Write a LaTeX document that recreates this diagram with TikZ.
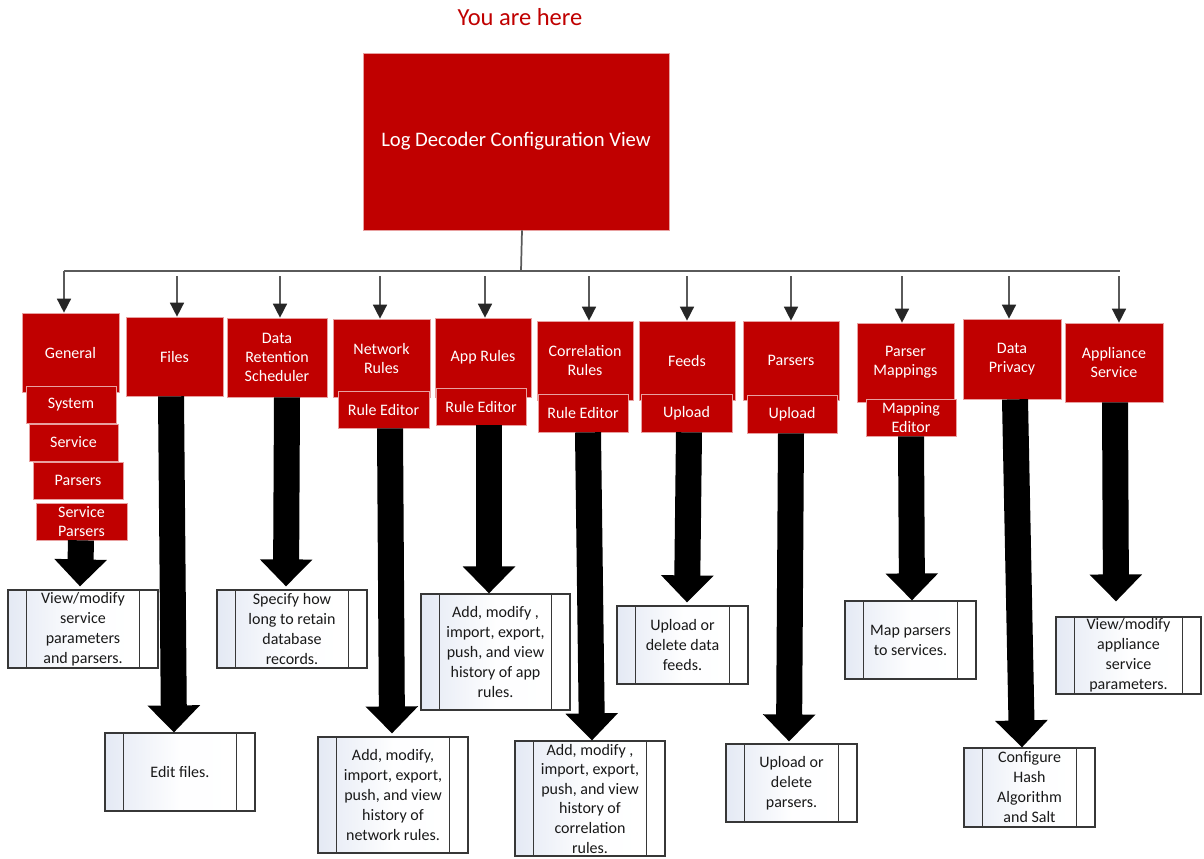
\documentclass[tikz,border=0pt]{standalone}
\usepackage{fontspec}
\setmainfont{Carlito}
\usetikzlibrary{arrows.meta,calc,shadows}
\definecolor{dred}{RGB}{192,0,0}
\definecolor{redline}{RGB}{232,160,160}
\definecolor{conn}{RGB}{90,90,90}
\definecolor{band}{RGB}{228,233,244}
\definecolor{dbord}{RGB}{55,55,55}
\tikzset{
  redbox/.style 2 args={draw=redline, line width=0.5pt, fill=dred, text=white,
    font=\fontsize{12}{14.25}\selectfont, align=center, inner sep=0pt,
    minimum width=#1*0.75pt, minimum height=#2*0.75pt,
    drop shadow={shadow xshift=1pt, shadow yshift=-1pt, opacity=0.3}},
  descbox/.style 2 args={draw=dbord, line width=0.9pt, left color=band, right color=white,
    middle color=white!96!band,
    text=black!90, font=\fontsize{12}{15}\selectfont, align=center, inner sep=0pt,
    minimum width=#1*0.75pt, minimum height=#2*0.75pt},
  bandline/.style={draw=dbord, line width=0.9pt},
  connline/.style={draw=conn, line width=1.3pt},
  thinarrow/.style={draw=conn, line width=1.1pt,
    -{Triangle[width=10.5pt,length=10.5pt,color=black!85]}},
  fatarrow/.style={draw=black, line width=19.5pt,
    -{Triangle[width=38.25pt,length=20.25pt]}}
}
\newcommand\pbands[1]{%
  \draw[bandline] ($(#1.north west)+(19,0)$) -- ($(#1.south west)+(19,0)$);
  \draw[bandline] ($(#1.north east)+(-19,0)$) -- ($(#1.south east)+(-19,0)$);}
\begin{document}
\begin{tikzpicture}[x=0.75pt,y=-0.75pt]
\fill[white] (0,0) rectangle (1204,858);
\useasboundingbox (0,0) rectangle (1204,858);

% title and main box
\node[text=dred, font=\fontsize{18.4}{20}\selectfont] (title) at (520,17) {You are here};
\node[redbox={306}{177}, font=\fontsize{15.5}{18}\selectfont] (main) at (516,141.5) {Log Decoder Configuration View};

% red boxes
\node[redbox={97}{79}] (gen) at (70.5,352.5) {General};
\node[redbox={90}{37}] (sys) at (71,404.5) {System};
\node[redbox={89}{37}] (svc) at (73.5,442.5) {Service};
\node[redbox={90}{37}] (par) at (78,480.5) {Parsers};
\node[redbox={91}{37}] (spar) at (81.5,521.5) {Service\\Parsers};
\node[redbox={97}{79}] (files) at (174.5,356.5) {Files};
\node[redbox={100}{79}] (dr) at (277,357.5) {Data\\Retention\\Scheduler};
\node[redbox={97}{78}] (net) at (381.5,358) {Network\\Rules};
\node[redbox={91}{37}] (netre) at (383.5,409.5) {Rule Editor};
\node[redbox={96}{79}] (app) at (483,357.5) {App Rules};
\node[redbox={90}{37}] (appre) at (481,406.5) {Rule Editor};
\node[redbox={96}{79}] (cor) at (585,360.5) {Correlation\\Rules};
\node[redbox={90}{38}] (corre) at (583,413) {Rule Editor};
\node[redbox={96}{79}] (feeds) at (687,360.5) {Feeds};
\node[redbox={91}{38}] (feedsup) at (686.5,413) {Upload};
\node[redbox={96}{79}] (pars) at (791,360.5) {Parsers};
\node[redbox={90}{38}] (parsup) at (792,414) {Upload};
\node[redbox={97}{79}] (pm) at (905.5,362.5) {Parser\\Mappings};
\node[redbox={90}{37}] (pmme) at (911,417.5) {Mapping\\Editor};
\node[redbox={98}{80}] (dp) at (1012,359) {Data\\Privacy};
\node[redbox={98}{79}] (appl) at (1114,362.5) {Appliance\\Service};

% description boxes
\node[descbox={150}{78}] (gd) at (83,629) {View/modify\\service\\parameters\\and parsers.};
\node[descbox={150}{78}] (fd) at (180,772) {Edit files.};
\node[descbox={150}{78}] (drd) at (292,629) {Specify how\\long to retain\\database\\records.};
\node[descbox={150}{116}] (netd) at (393,795) {Add, modify,\\import, export,\\push, and view\\history of\\network rules.};
\node[descbox={149}{116}] (appd) at (495.5,652) {Add, modify ,\\import, export,\\push, and view\\history of app\\rules.};
\node[descbox={150}{115}, font=\fontsize{12}{14.7}\selectfont] (cord) at (590,798.5) {Add, modify ,\\import, export,\\push, and view\\history of\\correlation\\rules.};
\node[descbox={131}{78}] (feedsd) at (682.5,645) {Upload or\\delete data\\feeds.};
\node[descbox={131}{78}] (parsd) at (791.5,783) {Upload or\\delete\\parsers.};
\node[descbox={131}{78}] (pmd) at (910.5,640) {Map parsers\\to services.};
\node[descbox={131}{79}] (dpd) at (1029.5,787.5) {Configure\\Hash\\Algorithm\\and Salt};
\node[descbox={145}{77}] (appld) at (1128.5,655.5) {View/modify\\appliance\\service\\parameters.};
\pbands{gd}\pbands{fd}\pbands{drd}\pbands{netd}\pbands{appd}\pbands{cord}
\pbands{feedsd}\pbands{parsd}\pbands{pmd}\pbands{dpd}\pbands{appld}

% thin connectors
\coordinate (j) at (521,271);
\coordinate (hl) at (64,271);
\coordinate (hr) at (1120,271);
\draw[connline] ($(main.south)+(6,0)$) -- (j);
\draw[connline] (hl) -- (hr);
\draw[thinarrow] (hl) -- (hl |- gen.north);
\coordinate (tfiles) at (177,276);
\coordinate (tdr) at (280,276);
\coordinate (tnet) at (380,276);
\coordinate (tapp) at (485,276);
\coordinate (tcor) at (589,276);
\coordinate (tfeeds) at (687,276);
\coordinate (tpars) at (791,276);
\coordinate (tpm) at (902,276);
\coordinate (tdp) at (1009,276);
\coordinate (tappl) at (1119,276);
\foreach \c/\n in {tfiles/files, tdr/dr, tnet/net, tapp/app, tcor/cor, tfeeds/feeds, tpars/pars, tpm/pm, tdp/dp, tappl/appl}
  \draw[thinarrow] (\c) -- (\c |- \n.north);

% fat arrows
\draw[fatarrow] ($(spar.south)+(-0.5,0)$) -- ($(gd.north)+(-3,-3)$);
\draw[fatarrow] ($(files.south)+(-3.5,0)$) -- ($(fd.north)+(-6,0)$);
\draw[fatarrow] ($(dr.south)+(10,0)$) -- ($(drd.north)+(-6,-3)$);
\draw[fatarrow] ($(netre.south)+(6.5,0)$) -- ($(netd.north)+(-1,-3)$);
\draw[fatarrow] ($(appre.south)+(8,0)$) -- ($(appd.north)+(-6.5,0)$);
\draw[fatarrow] ($(corre.south)+(5,0)$) -- ($(cord.north)+(2,0)$);
\draw[fatarrow] ($(feedsup.south)+(2.5,0)$) -- ($(feedsd.north)+(4.5,-3)$);
\draw[fatarrow] ($(parsup.south)+(-1,0)$) -- ($(parsd.north)+(-2.5,-2)$);
\draw[fatarrow] ($(pmme.south)+(0,0)$) -- ($(pmd.north)+(1.5,0)$);
\draw[fatarrow] ($(dp.south)+(3,0)$) -- ($(dpd.north)+(-7.5,0)$);
\draw[fatarrow] ($(appl.south)+(1,0)$) -- ($(appld.north)+(-12.5,-15)$);
\end{tikzpicture}
\end{document}
